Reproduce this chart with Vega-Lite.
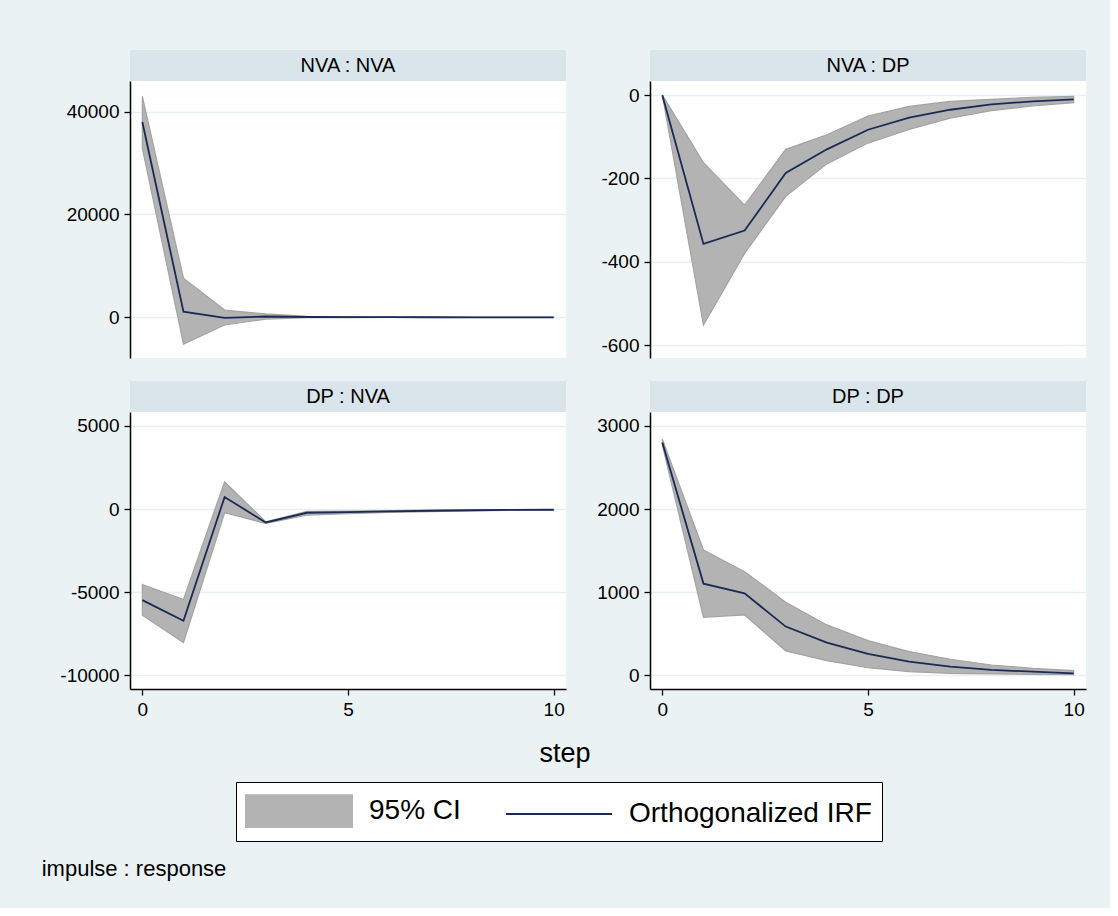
{
  "$schema": "https://vega.github.io/schema/vega-lite/v6.json",
  "background": "#EAF2F3",
  "padding": {"left": 41, "top": 50, "right": 24, "bottom": 28},
  "spacing": 23,
  "datasets": {
    "heads": [
      {"panel": "NVA : NVA"}, {"panel": "NVA : DP"}, {"panel": "DP : NVA"}, {"panel": "DP : DP"}
    ],
    "irf": [
      {"panel": "NVA : NVA", "step": 0, "irf": 38000, "lo": 32900, "hi": 43000},
      {"panel": "NVA : NVA", "step": 1, "irf": 1100, "lo": -5200, "hi": 7600},
      {"panel": "NVA : NVA", "step": 2, "irf": -100, "lo": -1500, "hi": 1400},
      {"panel": "NVA : NVA", "step": 3, "irf": 150, "lo": -350, "hi": 650},
      {"panel": "NVA : NVA", "step": 4, "irf": 60, "lo": -80, "hi": 200},
      {"panel": "NVA : NVA", "step": 5, "irf": 30, "lo": -50, "hi": 110},
      {"panel": "NVA : NVA", "step": 6, "irf": 20, "lo": -30, "hi": 70},
      {"panel": "NVA : NVA", "step": 7, "irf": 10, "lo": -20, "hi": 45},
      {"panel": "NVA : NVA", "step": 8, "irf": 0, "lo": -15, "hi": 30},
      {"panel": "NVA : NVA", "step": 9, "irf": 0, "lo": -10, "hi": 20},
      {"panel": "NVA : NVA", "step": 10, "irf": 0, "lo": -8, "hi": 15},
      {"panel": "NVA : DP", "step": 0, "irf": 0, "lo": 0, "hi": 0},
      {"panel": "NVA : DP", "step": 1, "irf": -357, "lo": -552, "hi": -162},
      {"panel": "NVA : DP", "step": 2, "irf": -325, "lo": -380, "hi": -264},
      {"panel": "NVA : DP", "step": 3, "irf": -187, "lo": -243, "hi": -130},
      {"panel": "NVA : DP", "step": 4, "irf": -130, "lo": -165, "hi": -95},
      {"panel": "NVA : DP", "step": 5, "irf": -83, "lo": -115, "hi": -50},
      {"panel": "NVA : DP", "step": 6, "irf": -54, "lo": -82, "hi": -27},
      {"panel": "NVA : DP", "step": 7, "irf": -35, "lo": -55, "hi": -15},
      {"panel": "NVA : DP", "step": 8, "irf": -22, "lo": -37, "hi": -10},
      {"panel": "NVA : DP", "step": 9, "irf": -15, "lo": -26, "hi": -5},
      {"panel": "NVA : DP", "step": 10, "irf": -10, "lo": -18, "hi": -3},
      {"panel": "DP : NVA", "step": 0, "irf": -5476, "lo": -6380, "hi": -4534},
      {"panel": "DP : NVA", "step": 1, "irf": -6720, "lo": -8024, "hi": -5436},
      {"panel": "DP : NVA", "step": 2, "irf": 722, "lo": -221, "hi": 1645},
      {"panel": "DP : NVA", "step": 3, "irf": -802, "lo": -862, "hi": -762},
      {"panel": "DP : NVA", "step": 4, "irf": -221, "lo": -361, "hi": -140},
      {"panel": "DP : NVA", "step": 5, "irf": -180, "lo": -280, "hi": -120},
      {"panel": "DP : NVA", "step": 6, "irf": -140, "lo": -200, "hi": -90},
      {"panel": "DP : NVA", "step": 7, "irf": -100, "lo": -150, "hi": -60},
      {"panel": "DP : NVA", "step": 8, "irf": -70, "lo": -110, "hi": -40},
      {"panel": "DP : NVA", "step": 9, "irf": -50, "lo": -80, "hi": -30},
      {"panel": "DP : NVA", "step": 10, "irf": -40, "lo": -60, "hi": -25},
      {"panel": "DP : DP", "step": 0, "irf": 2800, "lo": 2770, "hi": 2840},
      {"panel": "DP : DP", "step": 1, "irf": 1103, "lo": 698, "hi": 1508},
      {"panel": "DP : DP", "step": 2, "irf": 987, "lo": 726, "hi": 1247},
      {"panel": "DP : DP", "step": 3, "irf": 586, "lo": 293, "hi": 878},
      {"panel": "DP : DP", "step": 4, "irf": 393, "lo": 176, "hi": 606},
      {"panel": "DP : DP", "step": 5, "irf": 257, "lo": 92, "hi": 417},
      {"panel": "DP : DP", "step": 6, "irf": 164, "lo": 44, "hi": 285},
      {"panel": "DP : DP", "step": 7, "irf": 104, "lo": 24, "hi": 193},
      {"panel": "DP : DP", "step": 8, "irf": 64, "lo": 16, "hi": 124},
      {"panel": "DP : DP", "step": 9, "irf": 44, "lo": 12, "hi": 84},
      {"panel": "DP : DP", "step": 10, "irf": 24, "lo": 8, "hi": 56}
    ]
  },
  "title": {"text": "impulse : response", "orient": "bottom", "anchor": "start", "frame": "group", "dx": -88.3, "offset": 17, "fontSize": 22, "fontWeight": "normal", "font": "Liberation Sans", "color": "black"},
  "vconcat": [
    {
      "hconcat": [
        {
          "spacing": 0,
          "vconcat": [
            {"width": 436, "height": 31, "view": {"fill": "#D9E5EB", "stroke": null},
             "data": {"name": "heads"}, "transform": [{"filter": "datum.panel === 'NVA : NVA'"}],
             "mark": {"type": "text", "font": "Liberation Sans", "fontSize": 20, "color": "black"},
             "encoding": {"text": {"field": "panel", "type": "nominal"}}},
            {"width": 436, "height": 277, "view": {"fill": "white", "stroke": null},
             "data": {"name": "irf"}, "transform": [{"filter": "datum.panel === 'NVA : NVA'"}],
             "layer": [
               {"mark": {"type": "area", "stroke": "#A3A3A3", "strokeWidth": 1.2, "opacity": 1},
                "encoding": {
                  "x": {"field": "step", "type": "quantitative", "scale": {"domain": [-0.3, 10.3], "nice": false}, "axis": null},
                  "y": {"field": "hi", "type": "quantitative", "scale": {"domain": [-7920, 45970], "nice": false, "zero": false},
                        "axis": {"values": [0, 20000, 40000], "labelExpr": "'' + datum.value", "grid": true, "title": null}},
                  "y2": {"field": "lo"},
                  "color": {"datum": "95% CI", "type": "nominal",
                            "scale": {"domain": ["95% CI", "Orthogonalized IRF"], "range": ["#B3B3B3", "#1B2A55"]},
                            "legend": {"title": null, "orient": "none", "legendX": 106, "legendY": 732, "direction": "horizontal",
                                       "symbolType": {"expr": "datum.value === '95% CI' ? 'M-3,-0.9H3V0.9H-3Z' : 'M-3,0H3'"},
                                       "symbolSize": 1247,
                                       "symbolFillColor": {"expr": "datum.value === '95% CI' ? '#B3B3B3' : 'transparent'"},
                                       "symbolStrokeColor": {"expr": "datum.value === '95% CI' ? '#A0A0A0' : '#1B2A55'"},
                                       "symbolStrokeWidth": 2, "symbolOpacity": 1, "symbolOffset": 34,
                                       "labelExpr": "datum.value === 'Orthogonalized IRF' ? datum.label + '\u00a0\u00a0' : datum.label",
                                       "labelFont": "Liberation Sans", "labelFontSize": 28, "labelColor": "black", "labelOffset": 51, "labelLimit": 500,
                                       "columnPadding": 41, "padding": 10, "strokeColor": "black", "fillColor": "white"}}
                }},
               {"mark": {"type": "line", "strokeWidth": 1.8},
                "encoding": {
                  "x": {"field": "step", "type": "quantitative"},
                  "y": {"field": "irf", "type": "quantitative"},
                  "color": {"datum": "Orthogonalized IRF", "type": "nominal"}
                }}
             ]}
          ]
        },
        {
          "spacing": 0,
          "vconcat": [
            {"width": 436, "height": 31, "view": {"fill": "#D9E5EB", "stroke": null},
             "data": {"name": "heads"}, "transform": [{"filter": "datum.panel === 'NVA : DP'"}],
             "mark": {"type": "text", "font": "Liberation Sans", "fontSize": 20, "color": "black"},
             "encoding": {"text": {"field": "panel", "type": "nominal"}}},
            {"width": 436, "height": 277, "view": {"fill": "white", "stroke": null},
             "data": {"name": "irf"}, "transform": [{"filter": "datum.panel === 'NVA : DP'"}],
             "layer": [
               {"mark": {"type": "area", "stroke": "#A3A3A3", "strokeWidth": 1.2, "opacity": 1},
                "encoding": {
                  "x": {"field": "step", "type": "quantitative", "scale": {"domain": [-0.3, 10.3], "nice": false}, "axis": null},
                  "y": {"field": "hi", "type": "quantitative", "scale": {"domain": [-631, 34], "nice": false, "zero": false},
                        "axis": {"values": [0, -200, -400, -600], "labelExpr": "'' + datum.value", "grid": true, "title": null}},
                  "y2": {"field": "lo"},
                  "color": {"datum": "95% CI", "type": "nominal"}
                }},
               {"mark": {"type": "line", "strokeWidth": 1.8},
                "encoding": {
                  "x": {"field": "step", "type": "quantitative"},
                  "y": {"field": "irf", "type": "quantitative"},
                  "color": {"datum": "Orthogonalized IRF", "type": "nominal"}
                }}
             ]}
          ]
        }
      ],
      "spacing": 34
    },
    {
      "hconcat": [
        {
          "spacing": 0,
          "vconcat": [
            {"width": 436, "height": 31, "view": {"fill": "#D9E5EB", "stroke": null},
             "data": {"name": "heads"}, "transform": [{"filter": "datum.panel === 'DP : NVA'"}],
             "mark": {"type": "text", "font": "Liberation Sans", "fontSize": 20, "color": "black"},
             "encoding": {"text": {"field": "panel", "type": "nominal"}}},
            {"width": 436, "height": 277, "view": {"fill": "white", "stroke": null},
             "data": {"name": "irf"}, "transform": [{"filter": "datum.panel === 'DP : NVA'"}],
             "layer": [
               {"mark": {"type": "area", "stroke": "#A3A3A3", "strokeWidth": 1.2, "opacity": 1},
                "encoding": {
                  "x": {"field": "step", "type": "quantitative", "scale": {"domain": [-0.3, 10.3], "nice": false},
                        "axis": {"values": [0, 5, 10], "grid": false, "title": null}},
                  "y": {"field": "hi", "type": "quantitative", "scale": {"domain": [-10824, 5842], "nice": false, "zero": false},
                        "axis": {"values": [5000, 0, -5000, -10000], "labelExpr": "'' + datum.value", "grid": true, "title": null}},
                  "y2": {"field": "lo"},
                  "color": {"datum": "95% CI", "type": "nominal"}
                }},
               {"mark": {"type": "line", "strokeWidth": 1.8},
                "encoding": {
                  "x": {"field": "step", "type": "quantitative"},
                  "y": {"field": "irf", "type": "quantitative"},
                  "color": {"datum": "Orthogonalized IRF", "type": "nominal"}
                }}
             ]}
          ]
        },
        {
          "spacing": 0,
          "vconcat": [
            {"width": 436, "height": 31, "view": {"fill": "#D9E5EB", "stroke": null},
             "data": {"name": "heads"}, "transform": [{"filter": "datum.panel === 'DP : DP'"}],
             "mark": {"type": "text", "font": "Liberation Sans", "fontSize": 20, "color": "black"},
             "encoding": {"text": {"field": "panel", "type": "nominal"}}},
            {"width": 436, "height": 277, "view": {"fill": "white", "stroke": null},
             "data": {"name": "irf"}, "transform": [{"filter": "datum.panel === 'DP : DP'"}],
             "layer": [
               {"mark": {"type": "area", "stroke": "#A3A3A3", "strokeWidth": 1.2, "opacity": 1},
                "encoding": {
                  "x": {"field": "step", "type": "quantitative", "scale": {"domain": [-0.3, 10.3], "nice": false},
                        "axis": {"values": [0, 5, 10], "grid": false, "title": null}},
                  "y": {"field": "hi", "type": "quantitative", "scale": {"domain": [-165, 3168], "nice": false, "zero": false},
                        "axis": {"values": [0, 1000, 2000, 3000], "labelExpr": "'' + datum.value", "grid": true, "title": null}},
                  "y2": {"field": "lo"},
                  "color": {"datum": "95% CI", "type": "nominal"}
                }},
               {"mark": {"type": "line", "strokeWidth": 1.8},
                "encoding": {
                  "x": {"field": "step", "type": "quantitative"},
                  "y": {"field": "irf", "type": "quantitative"},
                  "color": {"datum": "Orthogonalized IRF", "type": "nominal"}
                }}
             ]}
          ]
        }
      ],
      "spacing": 30,
      "title": {"text": "step", "orient": "bottom", "anchor": "middle", "frame": "group", "dx": 435, "offset": 22, "fontSize": 27, "fontWeight": "normal", "font": "Liberation Sans", "color": "black"}
    }
  ],
  "config": {
    "font": "Liberation Sans",
    "view": {"stroke": null},
    "axis": {
      "labelFont": "Liberation Sans", "labelFontSize": 19, "labelColor": "black",
      "domainColor": "black", "domainWidth": 1.5, "tickColor": "black", "tickWidth": 1.3, "tickSize": 6,
      "labelPadding": 5, "gridColor": "#E6EFF2", "gridWidth": 1.3
    },
    "axisX": {"labelPadding": 5, "labelFlush": false},
    "axisY": {"labelAngle": 0}
  }
}
